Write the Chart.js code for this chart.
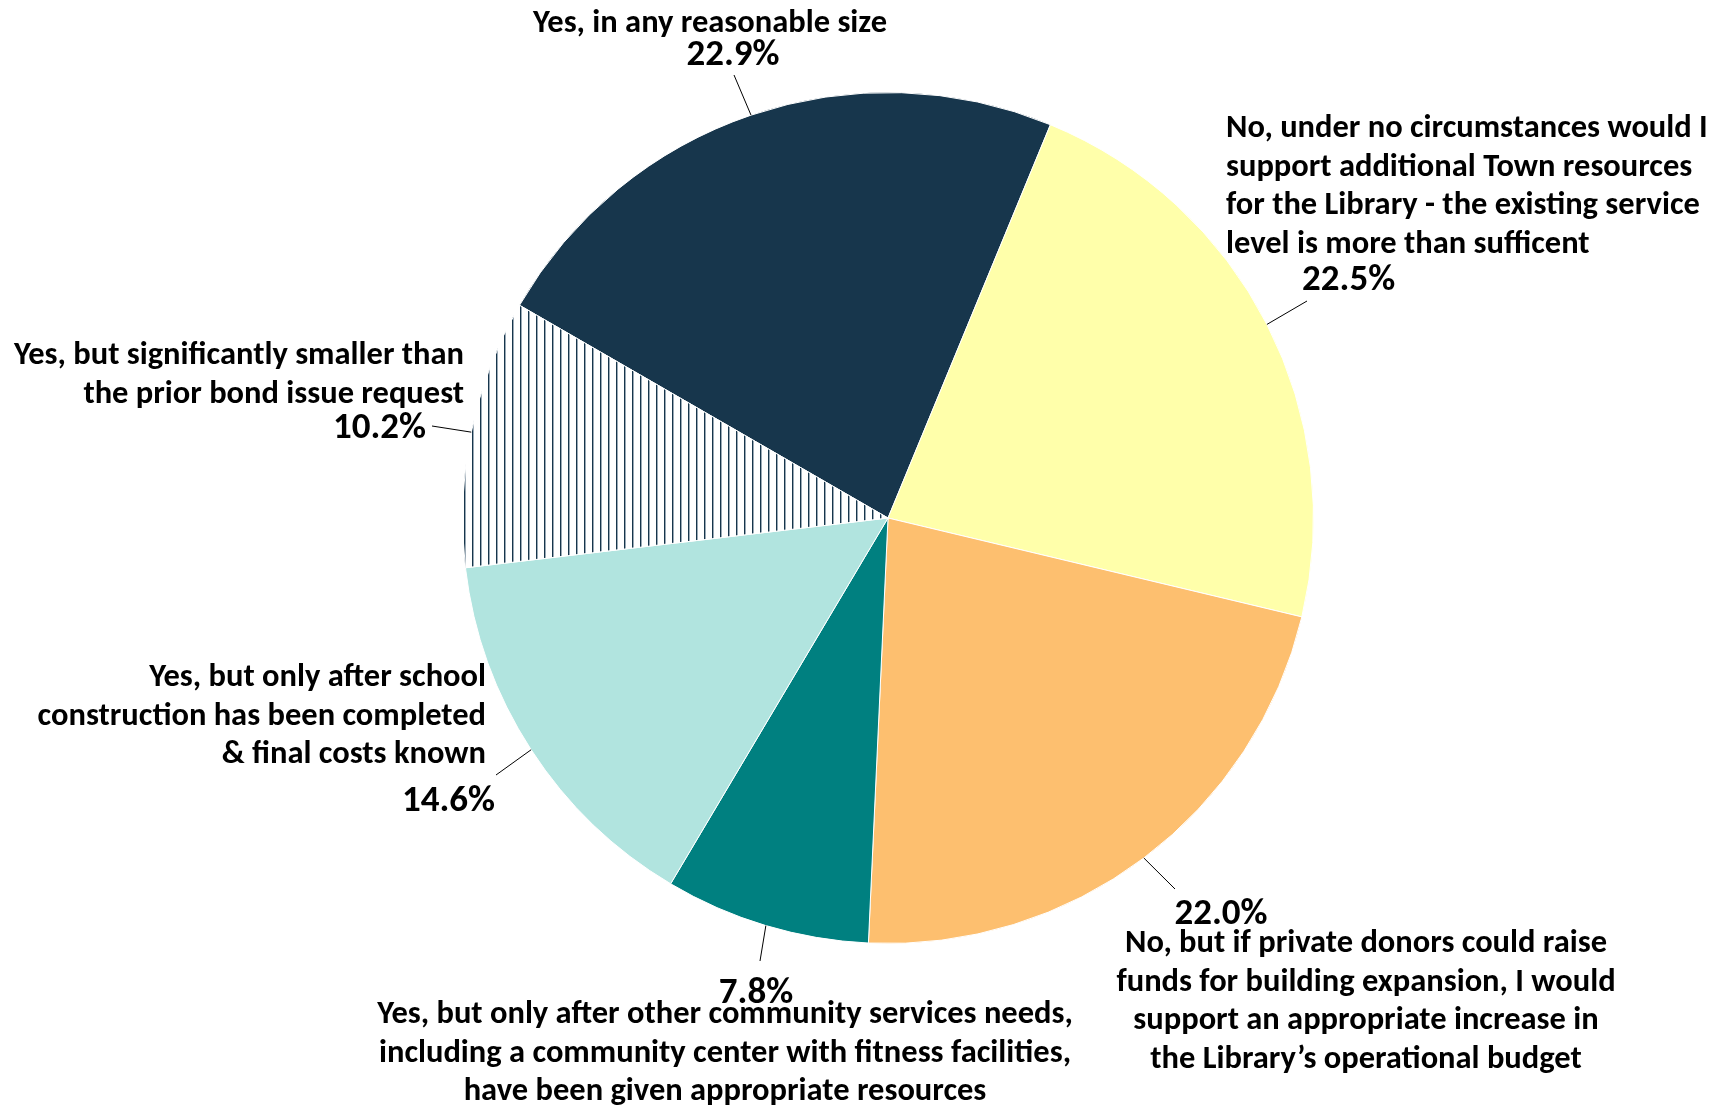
<!DOCTYPE html>
<html>
<head>
<meta charset="utf-8">
<script src="https://cdn.jsdelivr.net/npm/chart.js@4.4.1/dist/chart.umd.min.js"></script>
<style>
  html, body { margin: 0; padding: 0; background: #fff; }
  #wrap { width: 1717px; height: 1105px; }
</style>
</head>
<body>
<div id="wrap"><canvas id="pieChart" width="1717" height="1105"></canvas></div>
<script>
const categorias = [
  'Yes, in any reasonable size',
  'No, under no circumstances would I support additional Town resources for the Library - the existing service level is more than sufficent',
  'No, but if private donors could raise funds for building expansion, I would support an appropriate increase in the Library\u2019s operational budget',
  'Yes, but only after other community services needs, including a community center with fitness facilities, have been given appropriate resources',
  'Yes, but only after school construction has been completed & final costs known',
  'Yes, but significantly smaller than the prior bond issue request'
];
const percentuais = [22.9, 22.5, 22.0, 7.8, 14.6, 10.2];

// linhas quebradas como no original
const linhasRotulo = [
  ['Yes, in any reasonable size'],
  ['No, under no circumstances would I', 'support additional Town resources', 'for the Library - the existing service', 'level is more than sufficent'],
  ['No, but if private donors could raise', 'funds for building expansion, I would', 'support an appropriate increase in', 'the Library\u2019s operational budget'],
  ['Yes, but only after other community services needs,', 'including a community center with fitness facilities,', 'have been given appropriate resources'],
  ['Yes, but only after school', 'construction has been completed', '& final costs known'],
  ['Yes, but significantly smaller than', 'the prior bond issue request']
];

const cores = ['#17364c', '#ffffaa', '#fdbf6f', '#008080', '#b1e4df', 'hatch'];

// posição dos rótulos (layout)
const posRotulos = [
  { align: 'center', x: 710, y: 32, pAlign: 'center', px: 733, py: 65, fim: [734, 75] },
  { align: 'left', x: 1226, y: 137, pAlign: 'left', px: 1302, py: 290, fim: [1307, 301] },
  { align: 'center', x: 1366, y: 952, pAlign: 'center', px: 1221, py: 924, fim: [1175, 889] },
  { align: 'center', x: 725, y: 1023, pAlign: 'center', px: 756, py: 1003, fim: [760, 961] },
  { align: 'right', x: 486, y: 686, pAlign: 'right', px: 495, py: 811, fim: [496, 775] },
  { align: 'right', x: 464, y: 364, pAlign: 'right', px: 426, py: 438, fim: [432, 426] }
];
const alturaLinha = 38.5;
const fonteTexto = 'bold 32.5px Carlito, Lato, sans-serif';
const fontePct = 'bold 37px Carlito, Lato, sans-serif';

// hachura vertical
function criarHachura() {
  const c = document.createElement('canvas');
  c.width = 8; c.height = 8;
  const g = c.getContext('2d');
  g.fillStyle = '#ffffff';
  g.fillRect(0, 0, 8, 8);
  g.fillStyle = '#17364c';
  g.fillRect(0, 0, 1, 8);
  g.fillStyle = '#9aa9b5';
  g.fillRect(1, 0, 1, 8);
  return g.createPattern(c, 'repeat');
}

const ctx = document.getElementById('pieChart').getContext('2d');
const fundos = cores.map(c => c === 'hatch' ? criarHachura() : c);

const rotulosPlugin = {
  id: 'rotulos',
  afterDraw(chart) {
    const c = chart.ctx;
    const arcs = chart.getDatasetMeta(0).data;
    c.save();
    c.fillStyle = '#000';
    c.strokeStyle = '#000';
    c.lineWidth = 1;
    c.textBaseline = 'alphabetic';
    arcs.forEach((arc, i) => {
      const p = arc.getProps(['x', 'y', 'startAngle', 'endAngle', 'outerRadius'], true);
      const meio = (p.startAngle + p.endAngle) / 2;
      const sx = p.x + Math.cos(meio) * p.outerRadius;
      const sy = p.y + Math.sin(meio) * p.outerRadius;
      const pos = posRotulos[i];
      c.beginPath();
      c.moveTo(sx, sy);
      c.lineTo(pos.fim[0], pos.fim[1]);
      c.stroke();

      c.font = fonteTexto;
      c.textAlign = pos.align;
      linhasRotulo[i].forEach((linha, k) => {
        c.fillText(linha, pos.x, pos.y + k * alturaLinha);
      });
      c.font = fontePct;
      c.textAlign = pos.pAlign;
      c.fillText(percentuais[i].toFixed(1) + '%', pos.px, pos.py);
    });
    c.restore();
  }
};

new Chart(ctx, {
  type: 'pie',
  data: {
    labels: categorias,
    datasets: [{
      data: percentuais,
      backgroundColor: fundos,
      borderColor: '#ffffff',
      borderWidth: 1
    }]
  },
  options: {
    responsive: false,
    animation: false,
    devicePixelRatio: 1,
    rotation: -60,
    layout: { padding: { top: 92, bottom: 161, left: 462, right: 403 } },
    plugins: {
      legend: { display: false },
      tooltip: { enabled: false },
      title: { display: false }
    }
  },
  plugins: [rotulosPlugin]
});
</script>
</body>
</html>
